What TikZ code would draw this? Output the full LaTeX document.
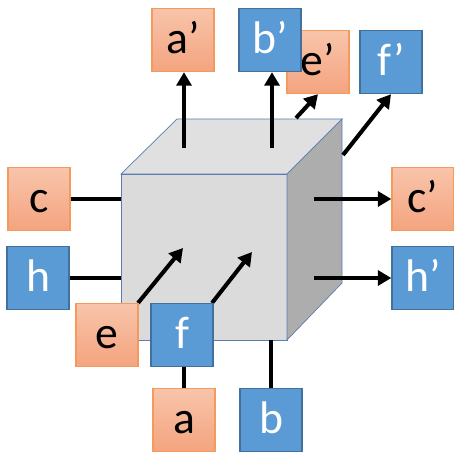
\documentclass[tikz,border=0pt]{standalone}
\usepackage{fontspec}
\setmainfont{Carlito}
\usetikzlibrary{arrows.meta}
\definecolor{ortop}{HTML}{F8C4AA}
\definecolor{orbot}{HTML}{F4A47F}
\definecolor{orline}{HTML}{F39A5C}
\definecolor{blfill}{HTML}{5B9BD5}
\definecolor{blline}{HTML}{41719C}
\definecolor{cubeline}{HTML}{5A7DB5}
\tikzstyle{ovar}=[draw=orline,thick,top color=ortop,bottom color=orbot,minimum width=1.24cm,minimum height=1.26cm,inner sep=0pt,text height=0.54cm,text depth=0cm,font=\fontsize{26}{26}\selectfont]
\tikzstyle{bvar}=[draw=blline,thick,fill=blfill,text=white,minimum width=1.24cm,minimum height=1.26cm,inner sep=0pt,text height=0.54cm,text depth=0cm,font=\fontsize{26}{26}\selectfont]
\tikzstyle{arr}=[-{Triangle[length=0.27cm,width=0.3cm]},draw,line width=2.3pt]
\tikzstyle{wire}=[draw,line width=2.3pt]

\begin{document}
\begin{tikzpicture}[x=0.02cm,y=-0.02cm]
  \useasboundingbox (0,0) rectangle (453,455);
  % the box
  \filldraw[draw=cubeline,fill=black!14] (121,174) rectangle (287,340);
  \filldraw[draw=cubeline,fill=black!12] (121,174) -- (177,119) -- (342,119) -- (287,174) -- cycle;
  \filldraw[draw=cubeline,fill=black!32] (287,174) -- (342,119) -- (342,283) -- (287,340) -- cycle;
  \coordinate (fnw) at (121,174);
  \coordinate (fsw) at (121,340);
  \coordinate (ta) at (184,148);
  \coordinate (tb) at (272,148);
  \coordinate (te) at (296,118);
  \coordinate (tf) at (343,155);
  \coordinate (rc) at (314,199);
  \coordinate (rh) at (314,278);
  \coordinate (ie) at (183,248);
  \coordinate (if) at (252,252);
  % outputs
  \node[ovar] (Ap) at (183,40) {a’};
  \node[ovar] (Ep) at (318,62) {e’};
  \node[bvar] (Bp) at (270,40) {b’};
  \node[bvar] (Fp) at (391,62) {f’};
  \node[ovar] (Cp) at (423,199) {c’};
  \node[bvar] (Hp) at (423,278) {h’};
  % inputs
  \node[ovar] (C) at (39,199) {c};
  \node[bvar] (H) at (38,278) {h};
  \node[ovar] (A) at (184,420) {a};
  \node[bvar] (B) at (271,420) {b};
  \draw[wire] (C) -- (C -| fsw);
  \draw[wire] (H) -- (H -| fsw);
  \draw[wire] (B.north) -- (B.north |- fsw);
  \draw[arr] (ta) -- (ta |- Ap.south);
  \draw[arr] (tb) -- (tb |- Bp.south);
  \draw[arr] (te) -- (Ep.south);
  \draw[arr] (tf) -- (Fp.south);
  \draw[arr] (rc) -- (rc -| Cp.west);
  \draw[arr] (rh) -- (rh -| Hp.west);
  \draw[arr] (138,303) -- (ie);
  \draw[arr] (212,303) -- (if);
  \node[ovar] (E) at (107,335) {e};
  \node[bvar] (F) at (182,335) {f};
  \draw[wire] (A.north) -- (A.north |- F.south);
\end{tikzpicture}
\end{document}
